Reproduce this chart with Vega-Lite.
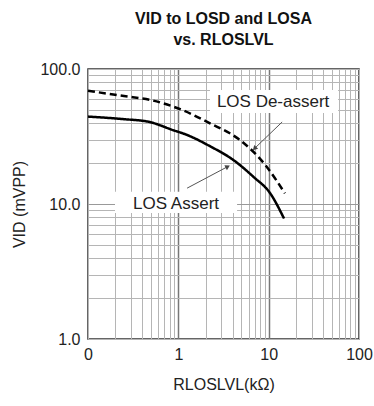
{
  "$schema": "https://vega.github.io/schema/vega-lite/v6.json",
  "width": 271,
  "height": 270,
  "autosize": {"type": "none"},
  "padding": {"left": 88, "top": 69, "right": 15, "bottom": 67},
  "background": "white",
  "title": {
    "text": ["VID to LOSD and LOSA", "vs. RLOSLVL"],
    "font": "Liberation Sans",
    "fontSize": 16,
    "fontWeight": "bold",
    "lineHeight": 21,
    "offset": 13,
    "anchor": "middle",
    "color": "#111"
  },
  "config": {
    "font": "Liberation Sans",
    "view": {"stroke": "#333", "strokeWidth": 1.5}
  },
  "datasets": {
    "curves": [
      {"series": "LOS De-assert", "x": 0.1, "y": 69},
      {"series": "LOS De-assert", "x": 0.25, "y": 63},
      {"series": "LOS De-assert", "x": 0.49, "y": 59},
      {"series": "LOS De-assert", "x": 1.0, "y": 51},
      {"series": "LOS De-assert", "x": 2.24, "y": 39.6},
      {"series": "LOS De-assert", "x": 4.8, "y": 29.8},
      {"series": "LOS De-assert", "x": 9.5, "y": 18.9},
      {"series": "LOS De-assert", "x": 15.1, "y": 12.0},
      {"series": "LOS Assert", "x": 0.1, "y": 44.4},
      {"series": "LOS Assert", "x": 0.25, "y": 42.5},
      {"series": "LOS Assert", "x": 0.465, "y": 40.7},
      {"series": "LOS Assert", "x": 0.88, "y": 35.2},
      {"series": "LOS Assert", "x": 1.23, "y": 32.6},
      {"series": "LOS Assert", "x": 2.24, "y": 26.8},
      {"series": "LOS Assert", "x": 4.06, "y": 21.2},
      {"series": "LOS Assert", "x": 6.78, "y": 15.9},
      {"series": "LOS Assert", "x": 10.4, "y": 12.0},
      {"series": "LOS Assert", "x": 14.8, "y": 7.8}
    ],
    "boxes": [
      {"label": "LOS De-assert", "x": 2.24, "x2": 58.7, "y": 69.9, "y2": 47.2},
      {"label": "LOS Assert", "x": 0.199, "x2": 4.47, "y": 12.3, "y2": 8.58}
    ],
    "arrows": [
      {"label": "LOS De-assert", "x": 14.1, "y": 40.5, "x2": 7.07, "y2": 26.0},
      {"label": "LOS Assert", "x": 1.25, "y": 13.1, "x2": 3.46, "y2": 18.8}
    ],
    "labels": [
      {"label": "LOS De-assert", "x": 11.2, "y": 57},
      {"label": "LOS Assert", "x": 0.943, "y": 10.0}
    ]
  },
  "encoding": {
    "x": {
      "field": "x",
      "type": "quantitative",
      "scale": {"type": "log", "domain": [0.1, 100], "nice": false},
      "axis": {
        "title": "RLOSLVL(kΩ)",
        "values": [0.1, 0.2, 0.3, 0.4, 0.5, 0.6, 0.7, 0.8, 0.9, 1, 2, 3, 4, 5, 6, 7, 8, 9, 10, 20, 30, 40, 50, 60, 70, 80, 90, 100],
        "labelExpr": "datum.value < 0.15 ? '0' : (datum.value === 1 || datum.value === 10 || datum.value === 100) ? format(datum.value, 'd') : ''",
        "labelOverlap": false,
        "labelBound": false,
        "labelFlush": false,
        "ticks": false,
        "domain": false,
        "labelFontSize": 16,
        "labelColor": "#222",
        "labelPadding": 7,
        "titleFontSize": 16,
        "titleFontWeight": "normal",
        "titleColor": "#222",
        "titlePadding": 14,
        "gridColor": {"condition": {"test": "datum.value === 1 || datum.value === 10", "value": "#777"}, "value": "#b5b5b5"},
        "gridWidth": {"condition": {"test": "datum.value === 1 || datum.value === 10", "value": 1.5}, "value": 1},
        "gridOpacity": 1
      }
    },
    "y": {
      "field": "y",
      "type": "quantitative",
      "scale": {"type": "log", "domain": [1, 100], "nice": false},
      "axis": {
        "title": "VID (mVPP)",
        "values": [1, 2, 3, 4, 5, 6, 7, 8, 9, 10, 20, 30, 40, 50, 60, 70, 80, 90, 100],
        "labelExpr": "(datum.value === 1 || datum.value === 10 || datum.value === 100) ? format(datum.value, '.1f') : ''",
        "labelOverlap": false,
        "labelBound": false,
        "labelFlush": false,
        "ticks": false,
        "domain": false,
        "labelFontSize": 16,
        "labelColor": "#222",
        "labelPadding": 8,
        "titleFontSize": 16,
        "titleFontWeight": "normal",
        "titleColor": "#222",
        "titlePadding": 12,
        "gridColor": {"condition": {"test": "datum.value === 10", "value": "#999"}, "value": "#b5b5b5"},
        "gridOpacity": 1
      }
    }
  },
  "layer": [
    {
      "data": {"name": "boxes"},
      "mark": {"type": "rect", "fill": "white"},
      "encoding": {
        "x2": {"field": "x2"},
        "y2": {"field": "y2"}
      }
    },
    {
      "data": {"name": "curves"},
      "mark": {"type": "line", "color": "black", "strokeWidth": 2.5, "interpolate": "monotone"},
      "encoding": {
        "strokeDash": {
          "field": "series",
          "type": "nominal",
          "scale": {"domain": ["LOS De-assert", "LOS Assert"], "range": [[7, 4], [1, 0]]},
          "legend": null
        }
      }
    },
    {
      "data": {"name": "arrows"},
      "mark": {"type": "rule", "color": "#555", "strokeWidth": 1},
      "encoding": {
        "x2": {"field": "x2"},
        "y2": {"field": "y2"}
      }
    },
    {
      "data": {"name": "arrows"},
      "transform": [{"filter": "datum.label === 'LOS De-assert'"}],
      "mark": {"type": "point", "shape": "triangle", "filled": true, "color": "#444", "size": 30, "angle": 225, "opacity": 1},
      "encoding": {
        "x": {"field": "x2", "type": "quantitative"},
        "y": {"field": "y2", "type": "quantitative"}
      }
    },
    {
      "data": {"name": "arrows"},
      "transform": [{"filter": "datum.label === 'LOS Assert'"}],
      "mark": {"type": "point", "shape": "triangle", "filled": true, "color": "#444", "size": 30, "angle": 62, "opacity": 1},
      "encoding": {
        "x": {"field": "x2", "type": "quantitative"},
        "y": {"field": "y2", "type": "quantitative"}
      }
    },
    {
      "data": {"name": "labels"},
      "mark": {"type": "text", "fontSize": 17, "color": "#222", "align": "center", "baseline": "middle"},
      "encoding": {
        "text": {"field": "label", "type": "nominal"}
      }
    }
  ]
}
